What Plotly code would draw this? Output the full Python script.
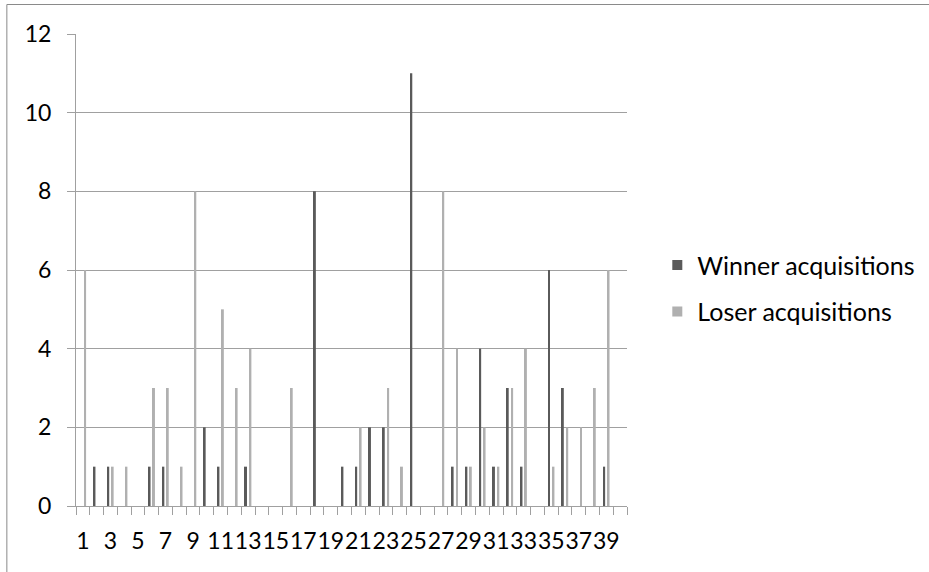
import plotly.graph_objects as go

# Deal index 1..40 and the number of acquisitions per deal (None = no bar)
deals = list(range(1, 41))
winner_acq = [None, 1, 1, None, None, 1, 1, None, None, 2,
              1, None, 1, None, None, None, None, 8, None, 1,
              1, 2, 2, None, 11, None, None, 1, 1, 4,
              1, 3, 1, None, 6, 3, None, None, 1, None]
loser_acq = [6, None, 1, 1, None, 3, 3, 1, 8, None,
             5, 3, 4, None, None, 3, None, None, None, None,
             2, None, 3, 1, None, None, 8, 4, 1, 2,
             1, 3, 4, None, 1, 2, 2, 3, 6, None]
label_vals = list(range(1, 40, 2))
label_text = [str(v) for v in label_vals]

WIN_COLOR = "#5a5a5a"
LOSE_COLOR = "#b0b0b0"
GRID = "#a0a0a0"
FONT = "Lato"
TICK_SIZE = 23
LEGEND_SIZE = 25

fig = go.Figure()
fig.add_trace(go.Bar(x=deals, y=winner_acq, name="Winner acquisitions",
                     marker=dict(color=WIN_COLOR, line=dict(width=0)),
                     showlegend=False))
fig.add_trace(go.Bar(x=deals, y=loser_acq, name="Loser acquisitions",
                     marker=dict(color=LOSE_COLOR, line=dict(width=0)),
                     showlegend=False))

# Legend entries with small square swatches
for name, color, grp in [("Winner acquisitions", WIN_COLOR, "w"),
                         ("Loser acquisitions", LOSE_COLOR, "l")]:
    fig.add_trace(go.Scatter(x=[None], y=[None], mode="markers", name=name,
                             legendgroup=grp,
                             marker=dict(symbol="square", size=10, color=color)))

# Outer frame lines (top and left edges of the chart area)
fx = -0.1255
fy = 1.0625
fig.add_shape(type="line", xref="paper", yref="paper", x0=fx, x1=fx,
              y0=-0.2, y1=fy, line=dict(color="#8a8a8a", width=1))
fig.add_shape(type="line", xref="paper", yref="paper", x0=fx, x1=1.7,
              y0=fy, y1=fy, line=dict(color="#8a8a8a", width=1))

fig.update_layout(
    width=929, height=572,
    margin=dict(l=76, r=302, t=34, b=66, pad=0, autoexpand=False),
    paper_bgcolor="white", plot_bgcolor="white",
    barmode="group", bargap=0.36, bargroupgap=0.55,
    font=dict(family=FONT, size=TICK_SIZE, color="#000000"),
    legend=dict(x=1.055, xanchor="left", y=0.559, yanchor="top",
                traceorder="grouped", tracegroupgap=11,
                font=dict(family=FONT, size=LEGEND_SIZE, color="#000000"),
                itemclick=False, itemdoubleclick=False),
    showlegend=True,
)

fig.update_xaxes(
    range=[0.5, 40.5], tickmode="array", tickvals=label_vals, ticktext=label_text,
    ticks="", tickangle=0, ticklabelstandoff=14, showgrid=False, zeroline=False,
    showline=True, linecolor=GRID, linewidth=1,
    minor=dict(tickmode="linear", tick0=0.5, dtick=1, ticks="outside",
               ticklen=8, tickcolor=GRID, tickwidth=1, showgrid=False),
    tickfont=dict(family=FONT, size=TICK_SIZE, color="#000000"),
)
fig.update_yaxes(
    range=[0, 12], tickmode="linear", tick0=0, dtick=2,
    ticks="outside", ticklen=8, tickcolor=GRID, tickwidth=1,
    ticklabelstandoff=11,
    showgrid=True, gridcolor=GRID, gridwidth=1, zeroline=False,
    showline=True, linecolor=GRID, linewidth=1,
    tickfont=dict(family=FONT, size=TICK_SIZE, color="#000000"),
)

fig.write_html("out.html")
